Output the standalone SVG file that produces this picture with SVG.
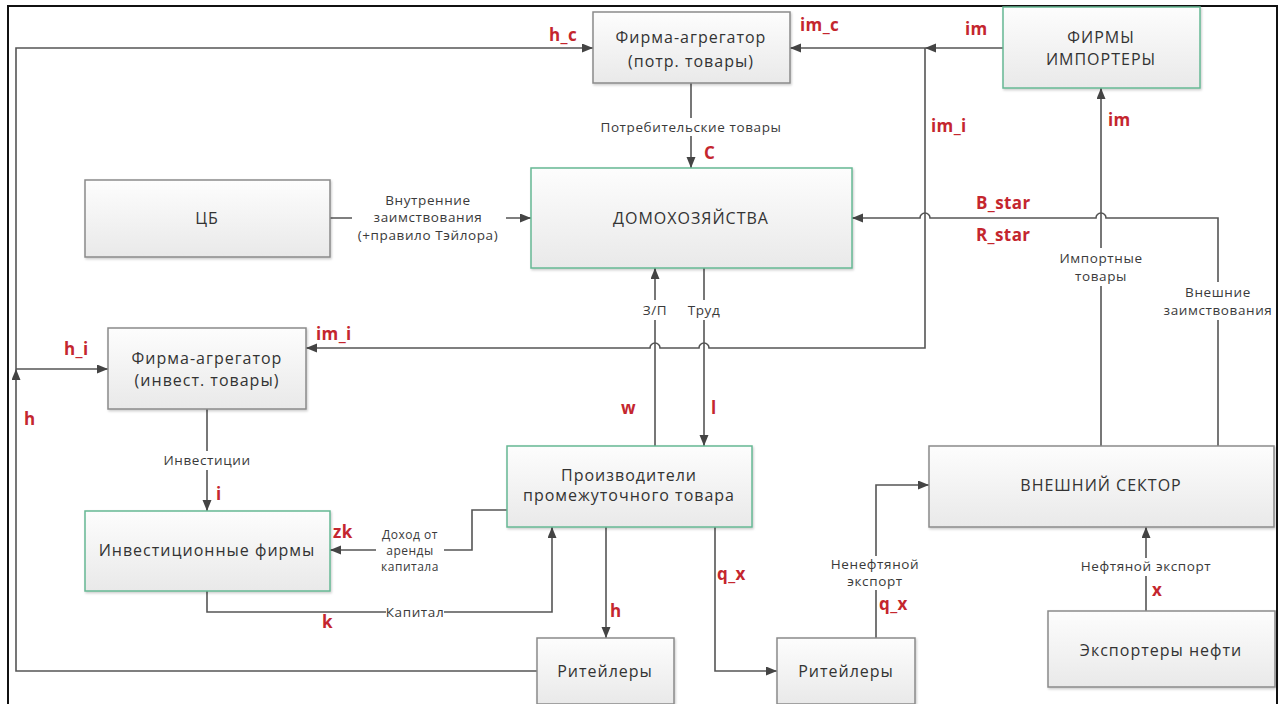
<svg xmlns="http://www.w3.org/2000/svg" width="1286" height="704" viewBox="0 0 1286 704">
<style>
.frame{fill:none;stroke:#111;stroke-width:2}
.box{fill:url(#g);stroke:#8a8a8a;stroke-width:1.5;filter:url(#sh)}
.gbox{fill:url(#g);stroke:#66b894;stroke-width:1.5;filter:url(#sh)}
.nt{font-family:"Open Sans","Noto Sans",sans-serif;font-size:16px;letter-spacing:1px;fill:#333;text-anchor:middle}
.ln{fill:none;stroke:#555;stroke-width:1.6}
.arr{marker-end:url(#ah)}
.lb{font-family:"Open Sans","Noto Sans",sans-serif;font-size:13.5px;letter-spacing:0.6px;fill:#3a3a3a;text-anchor:middle}
.sm{font-size:12px;letter-spacing:0.5px}
.bg{fill:#fff}
.rd{font-family:"Open Sans","Noto Sans",sans-serif;font-size:17px;letter-spacing:0.4px;font-weight:bold;fill:#c4262e}
</style>
<defs>
<linearGradient id="g" x1="0" y1="0" x2="0" y2="1"><stop offset="0" stop-color="#fdfdfd"/><stop offset="1" stop-color="#e9e9e9"/></linearGradient>
<filter id="sh" x="-5%" y="-5%" width="110%" height="115%"><feDropShadow dx="1" dy="1.5" stdDeviation="1.2" flood-color="#000" flood-opacity="0.2"/></filter>
<marker id="ah" markerUnits="userSpaceOnUse" markerWidth="12" markerHeight="10" refX="11" refY="4.5" orient="auto"><path d="M0,0 L11,4.5 L0,9 z" fill="#444"/></marker>
</defs>
<rect width="1286" height="704" fill="#fff"/>
<path class="frame" d="M8,704 V6 H1277 V704"/>

<g id="connectors">
<path class="ln arr" d="M537,671 H16 V369"/>
<path class="ln arr" d="M16,369 V48 H593"/>
<path class="ln arr" d="M16,369 H108"/>
<path class="ln arr" d="M1003,48 H925"/>
<path class="ln arr" d="M925,48 H790"/>
<path class="ln arr" d="M925,48 V348 H709 a5,5 0 0 0 -10,0 H660 a5,5 0 0 0 -10,0 H306"/>
<path class="ln arr" d="M1101,446 V88"/>
<path class="ln arr" d="M1218,446 V218 H1106 a5,5 0 0 0 -10,0 H930 a5,5 0 0 0 -10,0 H852"/>
<path class="ln arr" d="M330,218 H531"/>
<path class="ln arr" d="M691,83 V168"/>
<path class="ln arr" d="M655,446 V268"/>
<path class="ln arr" d="M704,268 V446"/>
<path class="ln arr" d="M207,409 V511"/>
<path class="ln arr" d="M507,510 H472 V550 H330"/>
<path class="ln arr" d="M207,591 V612 H552 V527"/>
<path class="ln arr" d="M606,527 V638"/>
<path class="ln arr" d="M715,527 V671 H777"/>
<path class="ln arr" d="M876,638 V485 H929"/>
<path class="ln arr" d="M1146,611 V527"/>
</g>

<g id="connector-labels">
<rect class="bg" x="352" y="190" width="154" height="54"/>
<text class="lb" x="428" y="205">Внутренние</text>
<text class="lb" x="428" y="222">заимствования</text>
<text class="lb" x="428" y="240">(+правило Тэйлора)</text>
<rect class="bg" x="596" y="118" width="190" height="18"/>
<text class="lb" x="691" y="132">Потребительские товары</text>
<rect class="bg" x="640" y="300" width="30" height="20"/>
<text class="lb" x="655" y="315">З/П</text>
<rect class="bg" x="684" y="300" width="40" height="20"/>
<text class="lb" x="704" y="315">Труд</text>
<rect class="bg" x="152" y="451" width="110" height="19"/>
<text class="lb" x="207" y="465">Инвестиции</text>
<rect class="bg" x="1052" y="248" width="98" height="38"/>
<text class="lb" x="1101" y="263">Импортные</text>
<text class="lb" x="1101" y="281">товары</text>
<rect class="bg" x="1157" y="282" width="118" height="38"/>
<text class="lb" x="1218" y="297">Внешние</text>
<text class="lb" x="1218" y="315">заимствования</text>
<rect class="bg" x="376" y="526" width="68" height="48"/>
<text class="lb sm" x="410" y="539">Доход от</text>
<text class="lb sm" x="410" y="555">аренды</text>
<text class="lb sm" x="410" y="571">капитала</text>
<rect class="bg" x="386" y="604" width="58" height="16"/>
<text class="lb" x="415" y="617">Капитал</text>
<rect class="bg" x="826" y="556" width="100" height="34"/>
<text class="lb" x="875" y="569">Ненефтяной</text>
<text class="lb" x="875" y="586">экспорт</text>
<rect class="bg" x="1074" y="558" width="144" height="18"/>
<text class="lb" x="1146" y="571">Нефтяной экспорт</text>
</g>

<g id="variable-labels">
<text class="rd" x="549" y="41">h_c</text>
<text class="rd" x="800" y="31">im_c</text>
<text class="rd" x="965" y="35">im</text>
<text class="rd" x="931" y="132">im_i</text>
<text class="rd" x="1108" y="126">im</text>
<text class="rd" x="976" y="209">B_star</text>
<text class="rd" x="976" y="241">R_star</text>
<text class="rd" x="704" y="159">C</text>
<text class="rd" x="64" y="355">h_i</text>
<text class="rd" x="316" y="340">im_i</text>
<text class="rd" x="24" y="425">h</text>
<text class="rd" x="621" y="414">w</text>
<text class="rd" x="711" y="414">l</text>
<text class="rd" x="216" y="500">i</text>
<text class="rd" x="333" y="538">zk</text>
<text class="rd" x="322" y="628">k</text>
<text class="rd" x="639" y="523">y_e</text>
<text class="rd" x="610" y="617">h</text>
<text class="rd" x="717" y="580">q_x</text>
<text class="rd" x="879" y="610">q_x</text>
<text class="rd" x="1152" y="596">x</text>
</g>

<g id="firm-agg-cons"><rect class="box" x="593" y="12" width="197" height="71"/><text class="nt" x="691" y="43">Фирма-агрегатор</text><text class="nt" x="691" y="67">(потр. товары)</text></g>
<g id="importers"><rect class="gbox" x="1003" y="7" width="197" height="81"/><text class="nt" x="1101" y="43">ФИРМЫ</text><text class="nt" x="1101" y="65">ИМПОРТЕРЫ</text></g>
<g id="households"><rect class="gbox" x="531" y="168" width="321" height="100"/><text class="nt" x="691" y="224">ДОМОХОЗЯЙСТВА</text></g>
<g id="cb"><rect class="box" x="85" y="180" width="245" height="77"/><text class="nt" x="207" y="224">ЦБ</text></g>
<g id="firm-agg-inv"><rect class="box" x="108" y="328" width="198" height="81"/><text class="nt" x="207" y="364">Фирма-агрегатор</text><text class="nt" x="207" y="386">(инвест. товары)</text></g>
<g id="inv-firms"><rect class="gbox" x="85" y="511" width="245" height="80"/><text class="nt" x="207" y="556">Инвестиционные фирмы</text></g>
<g id="producers"><rect class="gbox" x="507" y="446" width="245" height="81"/><text class="nt" x="629" y="481">Производители</text><text class="nt" x="629" y="501">промежуточного товара</text></g>
<g id="retailers1"><rect class="box" x="537" y="638" width="137" height="66"/><text class="nt" x="605" y="677">Ритейлеры</text></g>
<g id="retailers2"><rect class="box" x="777" y="638" width="138" height="66"/><text class="nt" x="846" y="677">Ритейлеры</text></g>
<g id="external"><rect class="box" x="929" y="446" width="345" height="81"/><text class="nt" x="1101" y="491">ВНЕШНИЙ СЕКТОР</text></g>
<g id="oil-exporters"><rect class="box" x="1048" y="611" width="227" height="76"/><text class="nt" x="1161" y="656">Экспортеры нефти</text></g>
</svg>
